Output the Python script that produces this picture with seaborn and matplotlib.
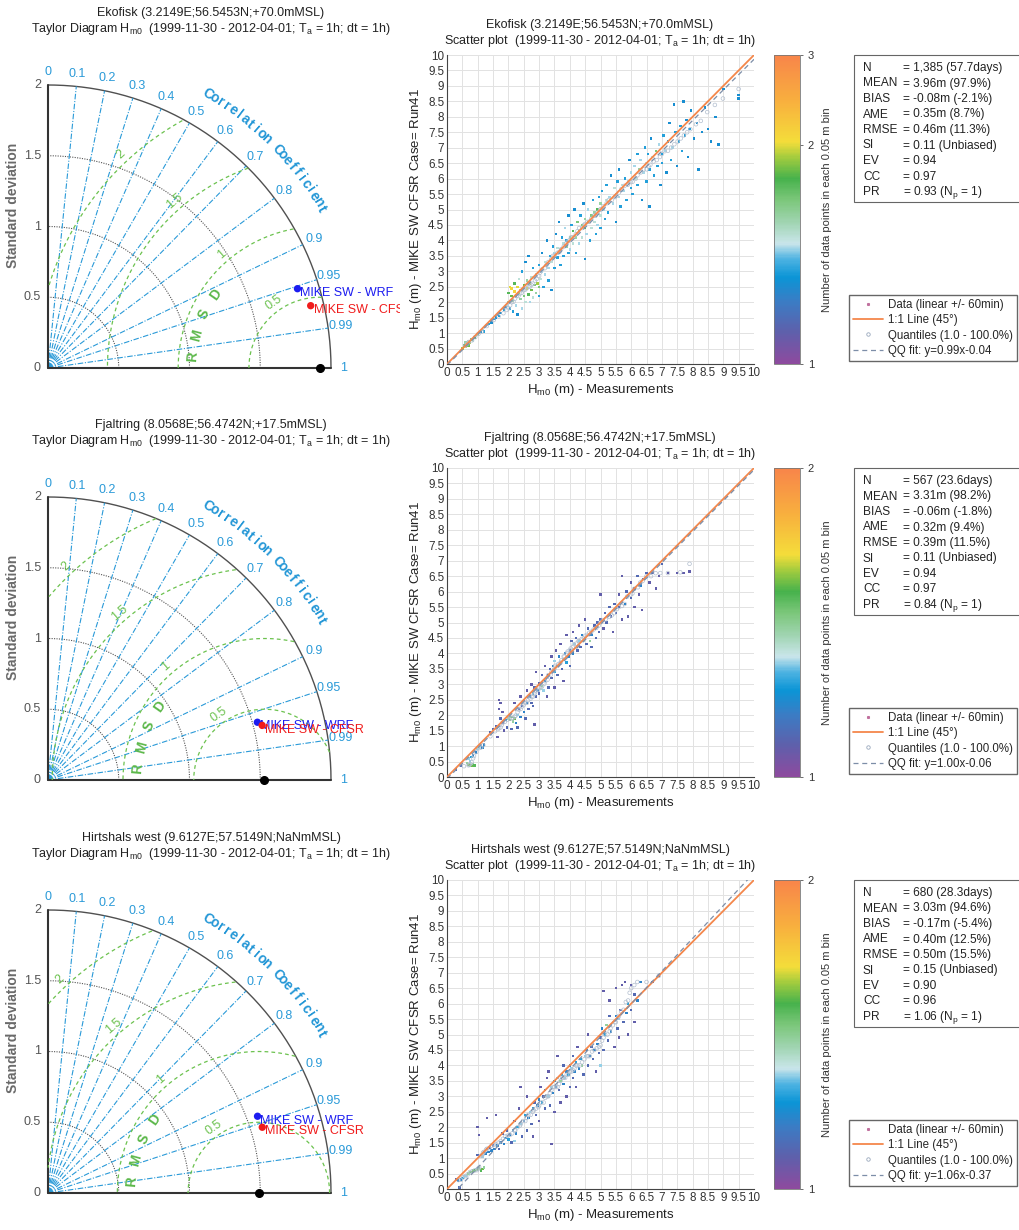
import numpy as np
import pandas as pd
import matplotlib
matplotlib.use("Agg")
import matplotlib.pyplot as plt
import matplotlib.colors as mcolors
import matplotlib.cm as cm
from matplotlib.lines import Line2D
from matplotlib.patches import Rectangle
import seaborn as sns

sns.set_style("white")
plt.rcParams["font.family"] = ["Liberation Sans", "DejaVu Sans"]
plt.rcParams["mathtext.fontset"] = "custom"
plt.rcParams["mathtext.rm"] = "Liberation Sans"
plt.rcParams["mathtext.it"] = "Liberation Sans"

# ---------------- data ----------------
stations = ["Ekofisk (3.2149E;56.5453N;+70.0mMSL)",
            "Fjaltring (8.0568E;56.4742N;+17.5mMSL)",
            "Hirtshals west (9.6127E;57.5149N;NaNmMSL)"]
period = "(1999-11-30 - 2012-04-01; T$_a$ = 1h; dt = 1h)"

# Taylor diagram: observed std, (std, corr) of the two model runs
ref_std = [1.92, 1.53, 1.49]
wrf_std = [1.85, 1.535, 1.577]
wrf_corr = [0.953, 0.964, 0.939]
cfsr_std = [1.908, 1.562, 1.584]
cfsr_corr = [0.973, 0.969, 0.956]

std_rings = [0.5, 1.0, 1.5]
corr_lines = [0.1, 0.2, 0.3, 0.4, 0.5, 0.6, 0.7, 0.8, 0.9, 0.95, 0.99]
corr_labels = [0, 0.1, 0.2, 0.3, 0.4, 0.5, 0.6, 0.7, 0.8, 0.9, 0.95, 0.99, 1]
rmsd_levels = [0.5, 1.0, 1.5, 2.0]

# scatter points (measured, modelled, points per bin)
eko_points = [
    (0.5, 0.5, 1.9), (0.55, 0.6, 1.7), (0.6, 0.55, 2.1), (0.6, 0.7, 1.5), (0.65, 0.65, 2.2),
    (0.7, 0.6, 1.8), (0.7, 0.75, 1.4), (0.75, 0.7, 1.9), (0.8, 0.8, 1.6), (0.85, 0.75, 1.4),
    (0.9, 0.85, 1.7), (0.95, 0.9, 1.35), (1.0, 0.95, 1.5), (1.05, 1.0, 1.4), (1.1, 1.05, 1.25),
    (1.15, 1.1, 1.35), (1.2, 1.05, 1.25), (1.35, 1.3, 1.25), (1.45, 1.35, 1.2), (1.55, 1.45, 1.25),
    (1.6, 1.5, 1.2), (1.7, 1.55, 1.25), (1.75, 1.65, 1.2), (1.85, 1.75, 1.25), (1.9, 1.85, 1.2),
    (1.95, 1.9, 1.35), (2.0, 2.0, 1.5), (2.0, 2.3, 1.7), (2.05, 2.5, 2.0), (2.05, 1.8, 1.25),
    (2.1, 2.2, 1.8), (2.1, 2.45, 2.1), (2.15, 1.7, 1.25), (2.15, 2.05, 1.5), (2.2, 2.35, 2.1),
    (2.2, 2.6, 1.7), (2.25, 1.9, 1.35), (2.25, 2.2, 1.6), (2.3, 2.5, 2.0), (2.3, 1.6, 1.2),
    (2.35, 2.3, 1.9), (2.35, 2.75, 1.4), (2.4, 2.1, 1.5), (2.4, 2.4, 2.0), (2.45, 3.0, 1.25),
    (2.45, 1.8, 1.35), (2.5, 2.55, 1.8), (2.5, 2.2, 1.6), (2.55, 3.3, 1.2), (2.55, 2.0, 1.4),
    (2.6, 2.45, 2.0), (2.6, 2.7, 1.5), (2.65, 2.25, 1.7), (2.65, 3.5, 1.2), (2.7, 2.6, 1.9),
    (2.7, 2.0, 1.35), (2.75, 2.8, 1.4), (2.75, 2.4, 1.8), (2.8, 3.1, 1.25), (2.8, 2.15, 1.4),
    (2.85, 2.55, 1.6), (2.9, 2.3, 1.5), (2.9, 2.9, 1.35), (2.95, 2.6, 1.9), (3.0, 2.5, 1.6),
    (3.0, 3.2, 1.25), (3.0, 2.2, 1.25), (3.05, 2.75, 1.4), (3.1, 3.0, 1.35), (3.1, 3.6, 1.2),
    (3.15, 2.5, 1.25), (3.2, 3.3, 1.4), (3.2, 2.9, 1.35), (3.25, 4.0, 1.2), (3.3, 3.1, 1.35),
    (3.3, 2.7, 1.25), (3.35, 3.5, 1.25), (3.4, 3.3, 1.4), (3.4, 2.4, 1.2), (3.45, 3.8, 1.25),
    (3.5, 3.6, 1.35), (3.5, 3.1, 1.25), (3.55, 4.2, 1.2), (3.6, 3.45, 1.25), (3.6, 3.75, 1.4),
    (3.65, 4.6, 1.2), (3.7, 3.7, 1.35), (3.7, 3.2, 1.25), (3.75, 4.1, 1.25), (3.8, 3.9, 1.4),
    (3.8, 3.5, 1.25), (3.85, 4.4, 1.35), (3.9, 3.8, 1.5), (3.9, 4.0, 1.25), (3.95, 3.6, 1.25),
    (3.95, 4.8, 1.2), (4.0, 4.1, 1.5), (4.0, 3.7, 1.35), (4.05, 4.5, 1.25), (4.1, 3.9, 1.4),
    (4.1, 4.3, 1.7), (4.15, 5.0, 1.2), (4.2, 4.1, 1.5), (4.2, 3.6, 1.25), (4.25, 4.6, 1.6),
    (4.3, 4.3, 1.8), (4.3, 3.9, 1.35), (4.35, 4.8, 1.25), (4.4, 4.5, 1.6), (4.4, 4.1, 1.4),
    (4.45, 5.2, 1.2), (4.5, 4.4, 1.7), (4.5, 4.7, 1.5), (4.5, 3.4, 1.2), (4.55, 4.2, 1.35),
    (4.6, 4.6, 1.8), (4.6, 5.0, 1.35), (4.65, 4.0, 1.25), (4.7, 4.8, 1.6), (4.7, 4.4, 1.4),
    (4.75, 5.3, 1.25), (4.8, 4.6, 1.4), (4.8, 4.9, 1.5), (4.85, 4.2, 1.25), (4.9, 5.0, 1.7),
    (4.9, 4.5, 1.35), (4.95, 5.4, 1.25), (5.0, 4.8, 1.4), (5.0, 5.2, 1.5), (5.0, 4.4, 1.25),
    (5.05, 5.6, 1.25), (5.1, 5.0, 1.35), (5.15, 4.7, 1.25), (5.2, 5.3, 1.4), (5.2, 5.8, 1.25),
    (5.25, 4.9, 1.25), (5.3, 5.4, 1.35), (5.35, 6.1, 1.2), (5.4, 5.2, 1.35), (5.45, 5.7, 1.4),
    (5.5, 5.5, 1.35), (5.5, 4.6, 1.2), (5.55, 5.9, 1.25), (5.6, 5.4, 1.35), (5.6, 6.3, 1.2),
    (5.65, 5.1, 1.25), (5.7, 5.8, 1.4), (5.75, 5.6, 1.35), (5.8, 6.0, 1.25), (5.85, 5.3, 1.25),
    (5.9, 5.9, 1.35), (5.95, 6.6, 1.2), (6.0, 5.7, 1.25), (6.0, 6.2, 1.35), (6.05, 5.5, 1.25),
    (6.1, 6.4, 1.35), (6.15, 6.0, 1.4), (6.2, 6.8, 1.25), (6.2, 5.8, 1.25), (6.25, 6.3, 1.5),
    (6.3, 6.6, 1.35), (6.35, 5.3, 1.2), (6.4, 6.2, 1.35), (6.45, 7.0, 1.25), (6.5, 6.5, 1.4),
    (6.5, 5.9, 1.25), (6.55, 6.8, 1.25), (6.6, 5.1, 1.2), (6.6, 6.3, 1.25), (6.65, 7.3, 1.2),
    (6.7, 6.7, 1.4), (6.75, 6.1, 1.25), (6.8, 6.9, 1.6), (6.85, 6.4, 1.25), (6.9, 7.1, 1.35),
    (6.95, 5.8, 1.2), (7.0, 6.8, 1.25), (7.0, 6.5, 1.25), (7.05, 7.4, 1.25), (7.1, 6.9, 1.35),
    (7.15, 6.2, 1.2), (7.2, 7.2, 1.25), (7.25, 7.8, 1.2), (7.3, 6.6, 1.25), (7.35, 7.0, 1.35),
    (7.4, 8.4, 1.2), (7.45, 7.5, 1.25), (7.5, 6.4, 1.2), (7.55, 7.2, 1.25), (7.6, 7.7, 1.25),
    (7.65, 6.9, 1.25), (7.7, 8.5, 1.2), (7.75, 7.4, 1.25), (7.8, 7.9, 1.2), (7.85, 6.7, 1.2),
    (7.9, 7.6, 1.25), (7.95, 8.2, 1.2), (8.05, 7.3, 1.2), (8.15, 7.8, 1.2), (8.2, 6.3, 1.2),
    (8.3, 7.5, 1.2), (8.4, 8.3, 1.2), (8.5, 7.6, 1.2), (8.6, 7.2, 1.2), (8.75, 8.0, 1.2),
    (8.85, 7.1, 1.2), (9.0, 8.9, 1.2), (9.5, 8.6, 1.2), (9.5, 8.7, 1.2),
]

fja_points = [
    (0.3, 0.25, 1.05), (0.45, 0.35, 1.05), (0.65, 0.45, 1.3), (0.7, 0.4, 1.45), (0.7, 0.6, 1.2),
    (0.75, 0.35, 1.4), (0.75, 0.5, 1.2), (0.8, 0.38, 1.45), (0.8, 0.65, 1.15), (0.85, 0.42, 1.3),
    (0.85, 0.7, 1.1), (0.9, 0.38, 1.4), (0.95, 0.8, 1.1), (1.0, 0.9, 1.2), (1.05, 0.95, 1.25),
    (1.1, 1.0, 1.2), (1.15, 0.95, 1.1), (1.2, 1.05, 1.1), (1.4, 1.45, 1.05), (1.5, 1.55, 1.05),
    (1.6, 1.65, 1.05), (1.65, 1.3, 1.03), (1.7, 2.5, 1.03), (1.7, 2.2, 1.03), (1.75, 1.9, 1.05),
    (1.75, 2.4, 1.03), (1.8, 1.75, 1.05), (1.8, 2.1, 1.03), (1.85, 1.5, 1.03), (1.9, 1.85, 1.15),
    (1.95, 1.6, 1.05), (2.0, 1.9, 1.3), (2.05, 1.85, 1.45), (2.1, 1.95, 1.4), (2.1, 1.55, 1.05),
    (2.15, 1.8, 1.3), (2.2, 1.9, 1.45), (2.2, 2.4, 1.03), (2.25, 1.75, 1.1), (2.3, 2.0, 1.2),
    (2.3, 1.6, 1.05), (2.35, 2.2, 1.05), (2.4, 1.95, 1.1), (2.4, 2.6, 1.03), (2.45, 2.3, 1.05),
    (2.5, 2.1, 1.1), (2.5, 2.5, 1.05), (2.55, 1.9, 1.05), (2.6, 2.4, 1.1), (2.6, 2.8, 1.03),
    (2.65, 2.2, 1.05), (2.7, 2.6, 1.1), (2.75, 2.4, 1.05), (2.75, 3.0, 1.03), (2.8, 2.7, 1.15),
    (2.8, 2.3, 1.05), (2.85, 2.9, 1.05), (2.85, 1.7, 1.03), (2.9, 2.6, 1.05), (2.9, 3.4, 1.03),
    (2.95, 2.8, 1.1), (3.0, 3.05, 1.05), (3.0, 2.7, 1.05), (3.05, 2.85, 1.25), (3.1, 2.95, 1.3),
    (3.1, 3.3, 1.05), (3.15, 2.8, 1.2), (3.2, 3.1, 1.1), (3.2, 3.6, 1.03), (3.25, 2.6, 1.03),
    (3.3, 3.3, 1.1), (3.3, 2.9, 1.05), (3.35, 3.5, 1.05), (3.4, 3.2, 1.05), (3.4, 3.9, 1.03),
    (3.45, 3.6, 1.1), (3.5, 3.4, 1.15), (3.5, 3.75, 1.2), (3.5, 2.9, 1.03), (3.55, 4.1, 1.03),
    (3.6, 3.6, 1.15), (3.6, 3.3, 1.05), (3.65, 3.9, 1.1), (3.7, 3.7, 1.2), (3.7, 4.3, 1.03),
    (3.75, 3.5, 1.05), (3.8, 3.8, 1.2), (3.8, 3.1, 1.03), (3.85, 4.0, 1.1), (3.9, 3.7, 1.15),
    (3.9, 4.6, 1.03), (3.95, 3.9, 1.1), (4.0, 4.1, 1.05), (4.0, 3.6, 1.05), (4.05, 4.4, 1.05),
    (4.1, 4.0, 1.1), (4.1, 4.7, 1.03), (4.15, 4.3, 1.2), (4.2, 4.5, 1.05), (4.25, 4.1, 1.05),
    (4.3, 4.4, 1.2), (4.3, 4.9, 1.03), (4.35, 4.2, 1.05), (4.4, 4.6, 1.1), (4.45, 4.4, 1.25),
    (4.5, 5.1, 1.03), (4.5, 4.5, 1.1), (4.55, 4.3, 1.05), (4.6, 4.8, 1.05), (4.65, 4.4, 1.3),
    (4.7, 4.6, 1.1), (4.7, 4.2, 1.05), (4.8, 4.9, 1.05), (4.85, 4.5, 1.05), (4.9, 5.0, 1.05),
    (4.95, 4.7, 1.05), (5.0, 5.9, 1.03), (5.0, 5.1, 1.05), (5.1, 4.8, 1.03), (5.15, 5.3, 1.05),
    (5.2, 5.0, 1.05), (5.3, 5.5, 1.05), (5.35, 5.2, 1.05), (5.4, 4.7, 1.03), (5.45, 5.6, 1.05),
    (5.5, 5.3, 1.05), (5.6, 5.9, 1.03), (5.6, 5.5, 1.05), (5.7, 6.5, 1.03), (5.7, 5.1, 1.03),
    (5.8, 5.6, 1.1), (5.85, 6.0, 1.05), (5.9, 5.2, 1.03), (6.0, 6.3, 1.03), (6.0, 5.8, 1.05),
    (6.1, 5.5, 1.03), (6.1, 6.1, 1.05), (6.2, 6.5, 1.05), (6.25, 5.9, 1.03), (6.3, 6.2, 1.1),
    (6.35, 5.4, 1.03), (6.4, 6.4, 1.05), (6.5, 6.6, 1.05), (6.6, 6.3, 1.03), (6.7, 6.6, 1.05),
    (6.8, 6.1, 1.03), (6.9, 6.5, 1.03), (7.0, 6.9, 1.05), (7.2, 6.6, 1.03), (7.5, 6.6, 1.03),
    (7.7, 6.6, 1.03), (7.9, 6.65, 1.03),
]

hir_points = [
    (0.3, 0.3, 1.05), (0.35, 0.28, 1.1), (0.4, 0.05, 1.05), (0.45, 0.3, 1.1), (0.5, 0.35, 1.15),
    (0.55, 0.4, 1.2), (0.6, 0.42, 1.2), (0.65, 0.45, 1.25), (0.7, 0.5, 1.3), (0.75, 0.55, 1.3),
    (0.8, 0.55, 1.4), (0.85, 0.6, 1.45), (0.9, 0.6, 1.4), (0.95, 0.65, 1.3), (1.0, 0.62, 1.45),
    (1.05, 0.68, 1.35), (1.1, 0.6, 1.4), (1.15, 0.65, 1.45), (1.2, 0.7, 1.3), (1.0, 2.0, 1.03),
    (1.05, 1.75, 1.03), (1.0, 1.1, 1.05), (1.1, 1.1, 1.15), (1.15, 1.05, 1.2), (1.2, 1.2, 1.1),
    (1.25, 1.15, 1.1), (1.3, 2.3, 1.03), (1.3, 1.3, 1.05), (1.35, 1.2, 1.1), (1.4, 1.35, 1.05),
    (1.45, 1.25, 1.1), (1.5, 1.4, 1.05), (1.55, 1.3, 1.1), (1.6, 2.4, 1.03), (1.65, 1.4, 1.1),
    (1.7, 1.3, 1.05), (1.75, 1.5, 1.1), (1.8, 1.8, 1.05), (1.85, 1.45, 1.1), (1.9, 1.65, 1.1),
    (1.95, 1.9, 1.05), (2.0, 1.6, 1.15), (2.05, 1.75, 1.1), (2.1, 1.5, 1.05), (2.15, 1.9, 1.1),
    (2.2, 1.55, 1.2), (2.2, 2.2, 1.05), (2.25, 1.8, 1.1), (2.3, 2.0, 1.15), (2.35, 2.6, 1.03),
    (2.4, 2.1, 1.2), (2.4, 3.3, 1.03), (2.45, 1.7, 1.05), (2.5, 2.2, 1.1), (2.55, 2.4, 1.15),
    (2.6, 1.9, 1.05), (2.6, 3.0, 1.03), (2.65, 2.3, 1.1), (2.7, 2.5, 1.2), (2.75, 2.1, 1.05),
    (2.8, 2.6, 1.15), (2.8, 1.7, 1.03), (2.85, 2.8, 1.05), (2.9, 2.4, 1.05), (2.95, 2.7, 1.1),
    (3.0, 2.9, 1.1), (3.0, 2.2, 1.03), (3.05, 3.3, 1.03), (3.1, 2.8, 1.15), (3.15, 3.0, 1.05),
    (3.2, 2.6, 1.05), (3.2, 3.2, 1.1), (3.25, 3.6, 1.03), (3.3, 3.8, 1.03), (3.3, 3.0, 1.2),
    (3.35, 2.7, 1.05), (3.4, 3.3, 1.2), (3.4, 1.45, 1.03), (3.45, 3.1, 1.1), (3.5, 3.5, 1.15),
    (3.5, 2.5, 1.03), (3.55, 3.3, 1.1), (3.6, 3.6, 1.2), (3.6, 4.3, 1.03), (3.65, 3.2, 1.05),
    (3.7, 3.5, 1.3), (3.7, 2.8, 1.03), (3.75, 3.7, 1.15), (3.8, 3.4, 1.1), (3.8, 4.0, 1.05),
    (3.85, 3.6, 1.2), (3.9, 3.8, 1.1), (3.9, 3.0, 1.03), (3.95, 3.7, 1.15), (4.0, 4.0, 1.1),
    (4.0, 3.3, 1.05), (4.05, 3.9, 1.2), (4.1, 3.6, 1.05), (4.1, 4.3, 1.05), (4.15, 3.8, 1.1),
    (4.2, 4.1, 1.15), (4.2, 3.3, 1.03), (4.25, 4.6, 1.03), (4.3, 3.9, 1.1), (4.35, 4.2, 1.15),
    (4.4, 4.0, 1.3), (4.45, 3.7, 1.05), (4.5, 4.3, 1.2), (4.55, 4.5, 1.1), (4.6, 4.0, 1.05),
    (4.6, 5.0, 1.03), (4.65, 4.3, 1.1), (4.7, 4.6, 1.05), (4.75, 4.2, 1.05), (4.8, 4.5, 1.1),
    (4.85, 3.8, 1.03), (4.9, 4.7, 1.1), (4.95, 4.4, 1.05), (5.0, 4.0, 1.2), (5.0, 4.9, 1.05),
    (5.05, 5.2, 1.1), (5.1, 4.5, 1.05), (5.1, 6.4, 1.03), (5.15, 5.0, 1.15), (5.2, 5.3, 1.3),
    (5.25, 4.8, 1.05), (5.3, 5.6, 1.05), (5.3, 6.1, 1.03), (5.35, 5.1, 1.1), (5.4, 5.4, 1.2),
    (5.45, 4.6, 1.03), (5.5, 5.6, 1.1), (5.5, 6.5, 1.03), (5.55, 5.2, 1.05), (5.6, 5.5, 1.2),
    (5.6, 4.9, 1.03), (5.65, 5.8, 1.05), (5.7, 6.6, 1.03), (5.75, 5.4, 1.05), (5.8, 6.7, 1.03),
    (5.85, 5.7, 1.1), (5.9, 6.0, 1.15), (5.9, 5.0, 1.03), (6.0, 6.6, 1.03), (6.0, 5.8, 1.05),
    (6.1, 5.4, 1.03), (6.1, 6.3, 1.05), (6.2, 6.1, 1.1), (6.3, 6.7, 1.1), (6.7, 6.7, 1.05),
    (6.9, 6.9, 1.05),
]

cbar_max = [3, 2, 2]
qq_slope = [0.99, 1.00, 1.06]
qq_intercept = [-0.04, -0.06, -0.37]

stat_names = ["N", "MEAN", "BIAS", "AME", "RMSE", "SI", "EV", "CC", "PR"]
eko_stats = ["1,385 (57.7days)", "3.96m (97.9%)", "-0.08m (-2.1%)", "0.35m (8.7%)",
             "0.46m (11.3%)", "0.11 (Unbiased)", "0.94", "0.97", "0.93 (N$_p$ = 1)"]
fja_stats = ["567 (23.6days)", "3.31m (98.2%)", "-0.06m (-1.8%)", "0.32m (9.4%)",
             "0.39m (11.5%)", "0.11 (Unbiased)", "0.94", "0.97", "0.84 (N$_p$ = 1)"]
hir_stats = ["680 (28.3days)", "3.03m (94.6%)", "-0.17m (-5.4%)", "0.40m (12.5%)",
             "0.50m (15.5%)", "0.15 (Unbiased)", "0.90", "0.96", "1.06 (N$_p$ = 1)"]

all_points = [eko_points, fja_points, hir_points]
all_stats = [eko_stats, fja_stats, hir_stats]
axis_max = 10

# ---------------- styling ----------------
BLUE = "#2a9ad8"
GREEN = "#6cc24f"
GRAY = "#555555"
cmap = mcolors.LinearSegmentedColormap.from_list("density", [
    (0.00, "#8e4a9e"), (0.10, "#5f5fab"), (0.20, "#3b7cc4"), (0.28, "#0b95d6"),
    (0.34, "#4fb3e2"), (0.39, "#c9e5ea"), (0.46, "#9fd4b0"), (0.53, "#7cc77b"),
    (0.60, "#47b24c"), (0.67, "#a4cc3e"), (0.72, "#f4dd3a"), (0.85, "#f8b03e"),
    (1.00, "#f8854a")])

W, H = 1020, 1230
fig = plt.figure(figsize=(W / 100, H / 100), dpi=100)


def fx(px):
    return px / W


def fy(py):
    return 1 - py / H


S = 141.5  # pixels per unit of standard deviation
taylor_origin = [368, 780, 1193]
scatter_top = [55, 468, 880]
SC_L, SC_W, SC_H = 447, 307, 309


def draw_taylor(i):
    oy = taylor_origin[i]
    ref = ref_std[i]
    ax = fig.add_axes([fx(48 - 0.1 * S), fy(oy + 0.1 * S), 2.59 * S / W, 2.55 * S / H])
    ax.set_xlim(-0.1, 2.49)
    ax.set_ylim(-0.1, 2.45)
    ax.axis("off")

    th = np.linspace(0, np.pi / 2, 200)
    for r in std_rings:
        ax.plot(r * np.cos(th), r * np.sin(th), color=GRAY, lw=0.8, ls=(0, (1, 1.2)))
    ax.plot(2 * np.cos(th), 2 * np.sin(th), color="#505050", lw=1.0)
    for c in corr_lines:
        a = np.arccos(c)
        ax.plot([0, 2 * np.cos(a)], [0, 2 * np.sin(a)], color=BLUE, lw=0.8,
                ls=(0, (5, 1.5, 1, 1.5)))
    ax.plot([0, 0], [0, 2], color="#333333", lw=1.5)
    ax.plot([0, 2], [0, 0], color="#333333", lw=1.5)

    # RMSD contours around the reference point
    phi = np.linspace(0, np.pi, 500)
    for R, ang in zip(rmsd_levels, [125, 131, 131, 133]):
        x = ref + R * np.cos(phi)
        y = R * np.sin(phi)
        ok = (x >= 0) & (np.hypot(x, y) <= 2)
        ax.plot(np.where(ok, x, np.nan), np.where(ok, y, np.nan), color=GREEN,
                lw=0.9, ls=(0, (3, 2.5)))
        a = np.radians(ang)
        ax.text(ref + (R + 0.06) * np.cos(a), (R + 0.06) * np.sin(a), f"{R:g}",
                color=GREEN, fontsize=9, rotation=ang - 90, ha="center", va="center")
    for letter, ang in zip("RMSD", [175, 165, 155, 145]):
        a = np.radians(ang)
        ax.text(ref + 0.9 * np.cos(a), 0.9 * np.sin(a), letter, color="#5cb84a",
                fontsize=10, fontweight="bold", rotation=ang - 90,
                ha="center", va="center")

    # std tick labels
    for v in [0, 0.5, 1, 1.5, 2]:
        ax.text(-0.05, v, f"{v:g}", color=GRAY, fontsize=9, ha="right", va="center")
    ax.text(-0.25, 1.15, "Standard deviation", color="#6a6a6a", fontsize=10,
            fontweight="bold", rotation=90, ha="center", va="center")

    # correlation labels
    for c in corr_labels:
        a = np.arccos(c)
        ax.text(2.09 * np.cos(a), 2.09 * np.sin(a), f"{c:g}", color=BLUE, fontsize=9,
                ha="center", va="center")
    title = "Correlation Coefficient"
    angs = np.linspace(59.7, 30.2, len(title))
    for ch, ang in zip(title, angs):
        a = np.radians(ang)
        ax.text(2.24 * np.cos(a), 2.24 * np.sin(a), ch, color="#2296d6", fontsize=10,
                fontweight="bold", rotation=ang - 90, ha="center", va="center")

    # reference and model points
    ax.plot([ref], [0], "o", color="black", ms=5.5, clip_on=False)
    models = pd.DataFrame({
        "name": ["MIKE SW - WRF", "MIKE SW - CFSR"],
        "std": [wrf_std[i], cfsr_std[i]],
        "corr": [wrf_corr[i], cfsr_corr[i]],
    })
    models["x"] = models["std"] * models["corr"]
    models["y"] = models["std"] * np.sin(np.arccos(models["corr"]))
    sns.scatterplot(data=models, x="x", y="y", hue="name",
                    palette=["#1c1cf0", "#f01c1c"], s=28, linewidth=0,
                    legend=False, ax=ax, zorder=5)
    for _, row in models.iterrows():
        col = "#1c1cf0" if "WRF" in row["name"] else "#f01c1c"
        ax.text(row["x"] + 0.02, row["y"] - 0.03, row["name"], color=col, fontsize=9,
                ha="left", va="center", clip_on=True)
    ax.set_xlabel("")
    ax.set_ylabel("")

    fig.text(fx(211), fy(oy - 355), stations[i], fontsize=9, ha="center", va="center",
             color="#222222")
    fig.text(fx(211), fy(oy - 339), "Taylor Diagram H$_{m0}$  " + period, fontsize=9,
             ha="center", va="center", color="#222222")


def fwd(v):
    return np.log(v) ** 0.75


def inv(v):
    return np.exp(v ** (1 / 0.75))


def draw_scatter(i):
    top = scatter_top[i]
    ax = fig.add_axes([fx(SC_L), fy(top + SC_H), SC_W / W, SC_H / H])
    df = pd.DataFrame(all_points[i], columns=["meas", "model", "dens"])
    norm = mcolors.FuncNorm((fwd, inv), vmin=1, vmax=cbar_max[i])

    ticks = np.arange(0, axis_max + 0.01, 0.5)
    ax.set_xlim(0, axis_max)
    ax.set_ylim(0, axis_max)
    ax.set_xticks(ticks)
    ax.set_yticks(ticks)
    ax.set_xticklabels([f"{t:g}" for t in ticks])
    ax.set_yticklabels([f"{t:g}" for t in ticks])
    ax.grid(True, color="#e2e2e2", lw=0.7)
    ax.set_axisbelow(True)
    for sp in ["top", "right"]:
        ax.spines[sp].set_visible(False)
    for sp in ["left", "bottom"]:
        ax.spines[sp].set_color("#444444")
        ax.spines[sp].set_linewidth(0.8)
    ax.tick_params(direction="in", length=3, width=0.6, labelsize=8.4,
                   colors="#333333", pad=2)

    sns.scatterplot(data=df, x="meas", y="model", hue="dens", palette=cmap,
                    hue_norm=norm, marker="s", s=3.2, linewidth=0, legend=False,
                    ax=ax, zorder=3)
    lims = np.array([0, axis_max])
    sns.lineplot(x=lims, y=lims, color="#f4874b", lw=1.3, ax=ax, zorder=4)
    sns.lineplot(x=lims, y=qq_slope[i] * lims + qq_intercept[i], color="#7d8ea8",
                 lw=0.9, ls=(0, (4, 3)), ax=ax, zorder=4)
    q = np.arange(1, 101)
    qdf = pd.DataFrame({"qx": np.percentile(df["meas"], q),
                        "qy": np.percentile(df["model"], q)})
    sns.scatterplot(data=qdf, x="qx", y="qy", marker="o", s=7, facecolor="none",
                    edgecolor="#b3bfcf", linewidth=0.5, ax=ax, zorder=3.5)

    ax.set_xlabel("H$_{m0}$ (m) - Measurements", fontsize=9.5, color="#222222",
                  labelpad=2)
    ax.set_ylabel("H$_{m0}$ (m) - MIKE SW CFSR Case= Run41", fontsize=9.5,
                  color="#222222", labelpad=3)
    fig.text(fx(600), fy(top - 30), stations[i], fontsize=9, ha="center", va="center",
             color="#222222")
    fig.text(fx(600), fy(top - 14), "Scatter plot  " + period, fontsize=9,
             ha="center", va="center", color="#222222")

    # colour bar
    cax = fig.add_axes([fx(774), fy(top + SC_H), 26 / W, SC_H / H])
    cb = fig.colorbar(cm.ScalarMappable(norm=norm, cmap=cmap), cax=cax,
                      ticks=list(range(1, cbar_max[i] + 1)))
    cb.outline.set_edgecolor("#777777")
    cb.outline.set_linewidth(0.6)
    cax.tick_params(labelsize=8, colors="#333333", length=2, width=0.5)
    cb.set_label("Number of data points in each 0.05 m bin", fontsize=8,
                 color="#333333", labelpad=6)

    # statistics box
    fig.patches.append(Rectangle((fx(854), fy(top + 147)), 200 / W, 147 / H,
                                 transform=fig.transFigure, facecolor="white",
                                 edgecolor="#666666", lw=0.8))
    for k, (name, val) in enumerate(zip(stat_names, all_stats[i])):
        yy = fy(top + 13 + 15.5 * k)
        fig.text(fx(863), yy, name, fontsize=8.6, va="center", color="#222222")
        fig.text(fx(903), yy, "= " + val, fontsize=8.6, va="center", color="#222222")

    # legend
    handles = [
        Line2D([], [], marker="s", ms=1.2, ls="none", color="#c0709e"),
        Line2D([], [], color="#f4874b", lw=1.3),
        Line2D([], [], marker="o", ms=2.5, ls="none", markerfacecolor="none",
               markeredgecolor="#9aa8bc", markeredgewidth=0.6),
        Line2D([], [], color="#7d8ea8", lw=0.9, ls=(0, (4, 3))),
    ]
    labels = ["Data (linear +/- 60min)", "1:1 Line (45°)", "Quantiles (1.0 - 100.0%)",
              f"QQ fit: y={qq_slope[i]:.2f}x{qq_intercept[i]:+.2f}"]
    fig.legend(handles, labels, loc="lower left",
               bbox_to_anchor=(fx(849), fy(top + SC_H - 3)), fontsize=8.3,
               frameon=True, fancybox=False, edgecolor="#666666", framealpha=1,
               borderpad=0.35, labelspacing=0.3, handlelength=2.6, handletextpad=0.4,
               borderaxespad=0)


for i in range(3):
    draw_taylor(i)
    draw_scatter(i)

fig.savefig("out.png", dpi=100)
